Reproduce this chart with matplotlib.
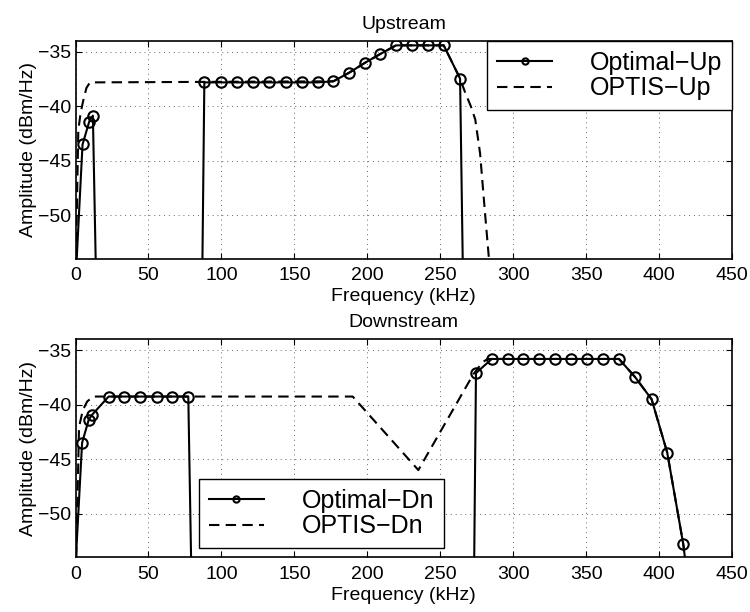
import numpy as np
import matplotlib.pyplot as plt

plt.rcParams['font.family'] = ['Liberation Sans', 'DejaVu Sans']
nan = np.nan

# Upstream data (kHz, dBm/Hz)
f_up_opt = [0.8, 4.8, 9.4, 11.9, 13.8, nan, 87.0, 88.3, 99.8, 110.9, 121.7, 132.8, 144.0, 155.0,
            166.0, 176.7, 187.7, 198.4, 208.8, 219.7, 230.4, 241.4, 252.4, 263.6, 265.4]
a_up_opt = [-54, -43.5, -41.4, -40.85, -54, nan, -54, -37.8, -37.8, -37.8, -37.8, -37.8, -37.8,
            -37.8, -37.8, -37.7, -36.9, -36.0, -35.2, -34.4, -34.4, -34.4, -34.4, -37.45, -54]
mk_up = [1, 2, 3] + list(range(7, 24))

f_up_optis = [0.3, 1.9, 3.5, 5.4, 7.5, 9.9, 176.7, 187.7, 198.4, 208.8, 219.7, 252.4,
              263.6, 267.0, 271.0, 274.0, 277.3, 280.7, 283.4]
a_up_optis = [-54, -42.2, -40.6, -39.4, -38.3, -37.8, -37.7, -36.9, -36.0, -35.2, -34.4, -34.4,
              -37.45, -38.7, -40.0, -41.2, -44.3, -49.8, -54]

# Downstream data
f_dn_opt = [0.3, 4.5, 9.0, 11.5, 22.7, 33.4, 44.2, 55.6, 66.3, 77.3, 79.2, nan, 273.3, 274.5,
            285.3, 296.3, 307.0, 318.0, 328.7, 339.7, 350.4, 361.3, 372.5, 383.5, 394.9,
            405.6, 416.6, 417.7]
a_dn_opt = [-54, -43.5, -41.4, -40.9, -39.25, -39.25, -39.25, -39.25, -39.25, -39.25, -54, nan,
            -54, -37.1, -35.8, -35.8, -35.8, -35.8, -35.8, -35.8, -35.8, -35.8, -35.8, -37.45,
            -39.5, -44.4, -52.8, -54]
mk_dn = list(range(1, 10)) + list(range(13, 27))

f_dn_optis = [0.5, 2.4, 5.0, 8.0, 12.2, 190.0, 235.0, 272.7, 279.0, 282.5, 285.3, 372.5,
              383.5, 394.9, 405.6, 416.6, 417.7]
a_dn_optis = [-54, -42.05, -40.5, -39.7, -39.25, -39.25, -46.0, -37.2, -36.1, -35.8, -35.8,
              -35.8, -37.45, -39.5, -44.4, -52.8, -54]

xticks = np.arange(0, 451, 50)
yticks = [-50, -45, -40, -35]

fig = plt.figure(figsize=(7.5, 6.12), dpi=100)
ax1 = fig.add_axes([0.1007, 0.577, 0.8753, 0.356])
ax2 = fig.add_axes([0.1007, 0.0895, 0.8753, 0.356])


def style(ax, title):
    ax.set_xlim(0, 450)
    ax.set_ylim(-54, -34)
    ax.set_xticks(xticks)
    ax.set_yticks(yticks)
    ax.tick_params(direction='in', top=True, right=True, labelsize=14, length=4)
    ax.tick_params(axis='x', pad=6)
    ax.tick_params(axis='y', pad=3)
    ax.grid(True, linestyle=(0, (1, 4)), color='black', linewidth=0.7, alpha=0.6)
    ax.set_xlabel('Frequency (kHz)', fontsize=14, labelpad=3)
    ax.set_ylabel('Amplitude (dBm/Hz)', fontsize=14, labelpad=1)
    ax.set_title(title, fontsize=14, pad=9)
    for s in ax.spines.values():
        s.set_linewidth(1.2)


def legend(ax, **kw):
    leg = ax.legend(borderaxespad=0, fontsize=18, fancybox=False, framealpha=1,
                    edgecolor='black', handlelength=2.2, handletextpad=1.5, labelspacing=0.05,
                    borderpad=0.4, markerscale=0.6, **kw)
    leg.get_frame().set_linewidth(1.0)


ax1.plot(f_up_opt, a_up_opt, '-o', color='black', lw=1.5, ms=7.5, mfc='none', mew=1.5,
         markevery=mk_up, label='Optimal\u2212Up')
ax1.plot(f_up_optis, a_up_optis, color='black', lw=1.5, dashes=(5, 3), label='OPTIS\u2212Up')
style(ax1, 'Upstream')
legend(ax1, loc='upper right', bbox_to_anchor=(1.0, 1.0))

ax2.plot(f_dn_opt, a_dn_opt, '-o', color='black', lw=1.5, ms=7.5, mfc='none', mew=1.5,
         markevery=mk_dn, label='Optimal\u2212Dn')
ax2.plot(f_dn_optis, a_dn_optis, color='black', lw=1.5, dashes=(5, 3), label='OPTIS\u2212Dn')
style(ax2, 'Downstream')
legend(ax2, loc='lower left', bbox_to_anchor=(0.188, 0.041))

fig.savefig('out.png', dpi=100)
